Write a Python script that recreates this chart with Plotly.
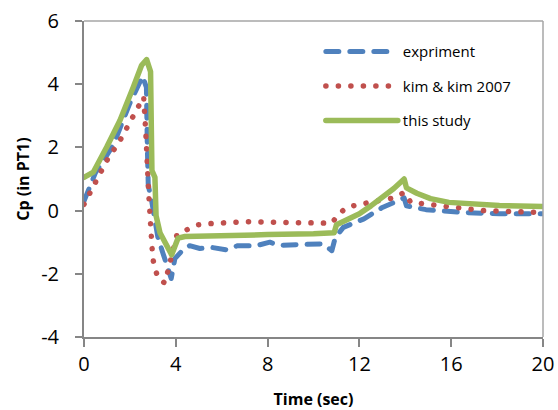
import plotly.graph_objects as go

# experiment (blue dashed)
exp_t = [0, 0.2, 0.5, 1.27, 2.0, 2.55, 2.72, 2.76, 2.8, 2.95, 3.1, 3.22, 3.45, 3.62, 3.8, 3.96, 4.3, 4.6,
         5.05, 5.6, 6.2, 6.7, 7.5, 8.1, 8.5, 9.3, 10.4, 10.8, 10.95, 11.3, 12.2, 13.0, 13.7, 13.95, 14.05,
         14.6, 14.9, 16.5, 18.1, 20]
exp_cp = [0.3, 0.65, 1.2, 2.06, 3.4, 4.25, 3.9, 2.0, 0.8, 0.3, -0.3, -0.85, -1.37, -1.7, -2.15, -1.52, -1.25, -1.11,
          -1.2, -1.17, -1.24, -1.11, -1.11, -1.0, -1.1, -1.08, -1.05, -1.27, -0.85, -0.53, -0.26, 0.1, 0.35, 0.4, 0.15,
          0.06, 0.03, -0.06, -0.1, -0.1]

# kim & kim 2007 (red dotted)
kim_t = [0, 0.26, 0.57, 1.0, 1.57, 2.09, 2.35, 2.6, 2.7, 2.75, 2.79, 2.8, 2.83, 2.88, 2.92, 2.96, 3.0, 3.1, 3.27,
         3.53, 3.66, 3.79, 4.05, 4.5, 4.97, 5.5, 6.06, 7.1, 8.5, 10.3, 10.8, 11.07, 11.45, 11.95, 12.5, 13.03,
         13.55, 13.94, 14.25, 14.8, 15.3, 15.8, 17.4, 19.6, 20]
kim_cp = [0.2, 0.57, 0.95, 1.59, 2.22, 2.95, 3.27, 3.6, 2.38, 1.9, 1.17, 0.86, 0.41, 0.0, -0.38, -1.11, -1.52, -1.87, -2.19,
          -2.29, -1.9, -1.52, -0.76, -0.6, -0.45, -0.41, -0.38, -0.35, -0.37, -0.38, -0.4, -0.13, 0.1, 0.19, 0.26, 0.35,
          0.41, 0.57, 0.25, 0.22, 0.16, 0.13, 0.0, -0.06, -0.06]

# this study (green solid)
study_t = [0, 0.41, 0.99, 1.57, 2.15, 2.51, 2.73, 2.9, 2.96, 3.09, 3.14, 3.31, 3.82, 4.1, 4.4, 6, 8, 10, 10.9,
           11.0, 11.5, 12.0, 12.5, 13.0, 13.5, 13.95, 14.05, 14.5, 15.1, 15.9, 17, 18.1, 20]
study_cp = [1.05, 1.22, 2.01, 2.86, 3.91, 4.6, 4.78, 4.4, 1.27, 1.05, -0.16, -0.7, -1.4, -0.87, -0.82, -0.78, -0.76, -0.73, -0.7,
            -0.45, -0.28, -0.1, 0.15, 0.42, 0.7, 1.0, 0.72, 0.55, 0.38, 0.26, 0.2, 0.16, 0.13]

x_ticks = [0, 4, 8, 12, 16, 20]
x_labels = ["0", "4", "8", "12", "16", "20"]
y_ticks = [-4, -2, 0, 2, 4, 6]
y_labels = ["-4", "-2", "0", "2", "4", "6"]

FONT = "Open Sans"

fig = go.Figure()
fig.add_trace(go.Scatter(x=exp_t, y=exp_cp, mode="lines", name="expriment", legendgroup="a",
                         line=dict(color="#4F81BD", width=5, dash="13px,11px")))
fig.add_trace(go.Scatter(x=kim_t, y=kim_cp, mode="lines", name="kim & kim 2007", legendgroup="b",
                         line=dict(color="#C0504D", width=5.5, dash="0.1px,12.4px")))
fig.add_trace(go.Scatter(x=study_t, y=study_cp, mode="lines", name="this study", legendgroup="c",
                         line=dict(color="#9BBB59", width=5.5)))

fig.update_layout(
    width=558, height=410,
    margin=dict(l=84, r=15, t=21, b=73),
    paper_bgcolor="white", plot_bgcolor="white",
    font=dict(family=FONT, color="black"),
    showlegend=True,
    legend=dict(x=0.516, y=0.955, xanchor="left", yanchor="top", bgcolor="rgba(0,0,0,0)",
                font=dict(size=15, family=FONT), traceorder="grouped", tracegroupgap=12,
                itemwidth=72),
    xaxis=dict(range=[0, 20], tickvals=x_ticks, ticktext=x_labels, showgrid=False, zeroline=False,
               showline=True, linecolor="#868686", linewidth=2, automargin=False,
               ticks="outside", ticklen=8, tickcolor="#868686", tickwidth=2,
               ticklabeloverflow="allow",
               tickfont=dict(size=20, family=FONT),
               title=dict(text="<b>Time (sec)</b>", font=dict(size=16, family=FONT), standoff=18)),
    yaxis=dict(range=[-4, 6], tickvals=y_ticks, ticktext=y_labels, showgrid=False, zeroline=False,
               showline=True, linecolor="#868686", linewidth=2, automargin=False,
               ticks="outside", ticklen=7, tickcolor="#868686", tickwidth=2,
               ticklabeloverflow="allow",
               tickfont=dict(size=20, family=FONT), ticklabelstandoff=12,
               title=dict(text="<b>Cp (in PT1)</b>", font=dict(size=16, family=FONT), standoff=8)),
    shapes=[
        dict(type="line", xref="paper", yref="paper", x0=0, x1=1, y0=1, y1=1,
             line=dict(color="#A6A6A6", width=1.5)),
        dict(type="line", xref="paper", yref="paper", x0=1, x1=1, y0=0, y1=1,
             line=dict(color="#A6A6A6", width=1.5)),
    ],
)

post = (
    "document.body.style.margin='0';document.body.style.overflow='hidden';"
    "document.querySelectorAll('path.js-line').forEach(function(p){p.style.strokeLinecap='round';"
    "p.style.strokeLinejoin='round';});"
)

fig.write_html("out.html", config={"displayModeBar": False}, post_script=post)
